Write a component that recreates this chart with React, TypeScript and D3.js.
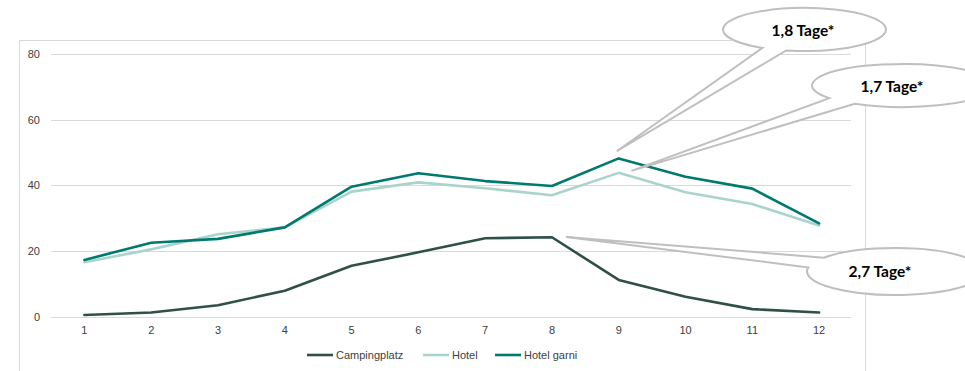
import React from "react";
import * as d3 from "d3";

const categories = ["1", "2", "3", "4", "5", "6", "7", "8", "9", "10", "11", "12"];
const campingplatz = [0.5, 1.3, 3.5, 7.9, 15.5, 19.6, 23.9, 24.2, 11.2, 6.1, 2.3, 1.3];
const hotel = [16.6, 20.5, 25.1, 27.2, 38.1, 40.9, 39.1, 37.0, 43.8, 37.9, 34.3, 27.8];
const hotelGarni = [17.3, 22.5, 23.7, 27.2, 39.6, 43.7, 41.3, 39.8, 48.2, 42.6, 39.0, 28.4];
const yTicks = [0, 20, 40, 60, 80];
const seriesNames = ["Campingplatz", "Hotel", "Hotel garni"];

// callout labels and where their pointers aim (category index, value)
const calloutLabels = ["1,8 Tage*", "1,7 Tage*", "2,7 Tage*"];
const calloutTargets: [number, number][] = [[7.97, 50.4], [8.19, 44.4], [7.21, 24.3]];

const W = 965, H = 371;
const colors = ["#2F4F49", "#A9D4CC", "#00796F"];

export default function App() {
  const x = d3.scaleBand<string>().domain(categories).range([51, 852.5]);
  const bw = x.bandwidth();
  const cx = (i: number) => (x(categories[0]) as number) + bw / 2 + i * x.step();
  const y = d3.scaleLinear().domain([0, 80]).range([316.7, 54]);

  const line = d3.line<number>().x((_, i) => cx(i)).y((v) => y(v));
  const series = [campingplatz, hotel, hotelGarni];

  // callout ellipse geometry (layout)
  const ellipses = [
    { cx: 804.5, cy: 29.5, rx: 81.5, ry: 21.5, a1: 103, a2: 121 },
    { cx: 903, cy: 85.5, rx: 91, ry: 21.5, a1: 122, a2: 144 },
    { cx: 895, cy: 271.5, rx: 88, ry: 23.5, a1: 190, a2: 216 },
  ];
  const textPos = [[803, 31], [892, 87], [880, 272]];

  const pt = (e: any, a: number) => {
    const r = (a * Math.PI) / 180;
    return [e.cx + e.rx * Math.cos(r), e.cy + e.ry * Math.sin(r)];
  };

  const legendItems = [
    { x: 307, tx: 336 },
    { x: 423, tx: 452 },
    { x: 495, tx: 524 },
  ];

  return (
    <svg width={W} height={H} style={{ position: "absolute", left: 0, top: 0, background: "#fff" }}>
      <rect x={0} y={0} width={W} height={H} fill="#fff" />
      <rect x={19.5} y={40.5} width={846} height={400} fill="none" stroke="#D9D9D9" strokeWidth={1} />
      {yTicks.map((t) => (
        <g key={t}>
          <line x1={51} x2={851} y1={Math.round(y(t)) + 0.5} y2={Math.round(y(t)) + 0.5} stroke="#D9D9D9" strokeWidth={1} />
          <text x={40} y={y(t) + 4} textAnchor="end" fontFamily="Liberation Sans, Arial, sans-serif" fontSize={11} fill="#404040">
            {t}
          </text>
        </g>
      ))}
      {categories.map((c, i) => (
        <text key={c} x={cx(i)} y={334} textAnchor="middle" fontFamily="Liberation Sans, Arial, sans-serif" fontSize={11} fill="#404040">
          {c}
        </text>
      ))}
      {series.map((s, k) => (
        <path key={k} d={line(s) as string} fill="none" stroke={colors[k]} strokeWidth={2.6} strokeLinejoin="round" strokeLinecap="round" />
      ))}
      {ellipses.map((e, k) => {
        const p1 = pt(e, e.a1);
        const p2 = pt(e, e.a2);
        const [ti, tv] = calloutTargets[k];
        const tip = [cx(ti), y(tv)];
        const d = `M${p2[0]},${p2[1]} A${e.rx},${e.ry} 0 1 1 ${p1[0]},${p1[1]} L${tip[0]},${tip[1]} Z`;
        return (
          <g key={k}>
            <path d={d} fill="#fff" stroke="#BFBFBF" strokeWidth={2} strokeLinejoin="miter" />
            <text x={textPos[k][0]} y={textPos[k][1] + 5} textAnchor="middle" fontFamily="Lato, Open Sans, sans-serif" fontWeight="bold" fontSize={15.5} fill="#000">
              {calloutLabels[k]}
            </text>
          </g>
        );
      })}
      {seriesNames.map((n, k) => (
        <g key={n}>
          <line x1={legendItems[k].x} x2={legendItems[k].x + 26} y1={355} y2={355} stroke={colors[k]} strokeWidth={2.6} />
          <text x={legendItems[k].tx} y={359} fontFamily="Liberation Sans, Arial, sans-serif" fontSize={11} fill="#404040">
            {n}
          </text>
        </g>
      ))}
    </svg>
  );
}
